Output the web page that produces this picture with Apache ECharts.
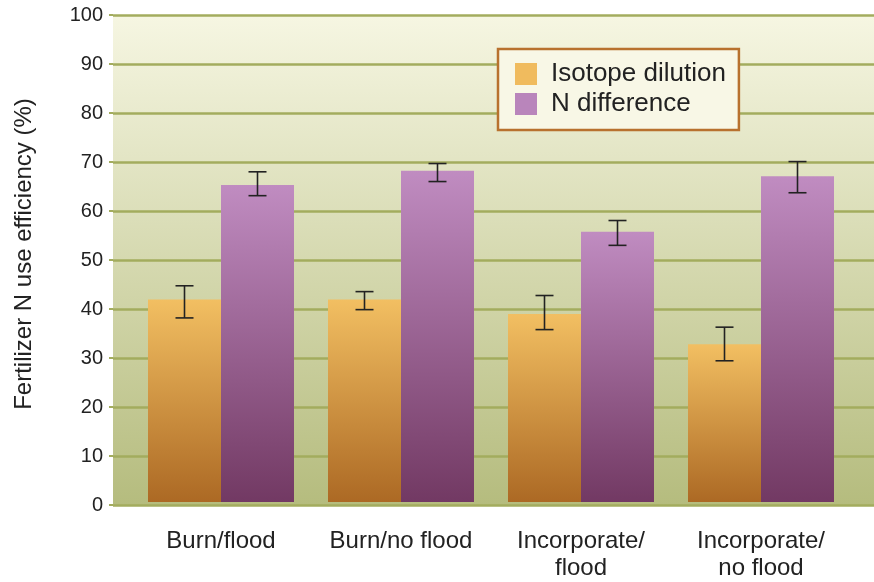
<!DOCTYPE html>
<html>
<head>
<meta charset="utf-8">
<script src="https://cdn.jsdelivr.net/npm/echarts@6/dist/echarts.min.js"></script>
<style>
  html, body { margin: 0; padding: 0; background: #fff; }
  #chart { width: 874px; height: 582px; }
</style>
</head>
<body>
<div id="chart"></div>
<script>
// Data
var categories = ['Burn/flood', 'Burn/no flood', 'Incorporate/\nflood', 'Incorporate/\nno flood'];
var isotopeDilution = [41.6, 41.6, 38.6, 32.4];
var isotopeLow = [37.8, 39.5, 35.4, 29.0];
var isotopeHigh = [44.4, 43.2, 42.4, 35.9];
var nDifference = [65.1, 68.0, 55.5, 66.9];
var nDiffLow = [62.9, 65.8, 52.7, 63.5];
var nDiffHigh = [67.8, 69.5, 57.8, 69.9];
var yTicks = [0, 10, 20, 30, 40, 50, 60, 70, 80, 90, 100];

var FONT = '"Liberation Sans", Arial, Helvetica, sans-serif';
var BAR_W = 73;

var COLORS = {
  orangeTop: '#f2bf62', orangeBottom: '#ac6924',
  purpleTop: '#c08cc1', purpleBottom: '#723963',
  legendOrange: '#f0bb5e', legendPurple: '#b985bb'
};

function vGrad(top, bottom) {
  return new echarts.graphic.LinearGradient(0, 0, 0, 1, [
    { offset: 0, color: top },
    { offset: 1, color: bottom }
  ]);
}

// error bars drawn at the bar centres (offset from the category centre)
function errorSeries(lows, highs, offset) {
  var data = lows.map(function (lo, i) { return [i, lo, highs[i]]; });
  return {
    type: 'custom',
    xAxisIndex: 1,
    yAxisIndex: 1,
    z: 10,
    silent: true,
    data: data,
    renderItem: function (params, api) {
      var lo = api.coord([api.value(0), api.value(1)]);
      var hi = api.coord([api.value(0), api.value(2)]);
      var x = lo[0] + offset;
      var hw = 9;
      var style = { stroke: '#222', lineWidth: 1.6 };
      return {
        type: 'group',
        children: [
          { type: 'line', shape: { x1: x, y1: lo[1], x2: x, y2: hi[1] }, style: style },
          { type: 'line', shape: { x1: x - hw, y1: lo[1], x2: x + hw, y2: lo[1] }, style: style },
          { type: 'line', shape: { x1: x - hw, y1: hi[1], x2: x + hw, y2: hi[1] }, style: style }
        ]
      };
    }
  };
}

var chart = echarts.init(document.getElementById('chart'), null, { renderer: 'canvas' });

var option = {
  backgroundColor: '#ffffff',
  animation: false,
  textStyle: { fontFamily: FONT },
  legend: {
    orient: 'vertical',
    left: 498,
    top: 49,
    padding: [12, 13, 13, 17],
    itemWidth: 22,
    itemHeight: 22,
    itemGap: 4,
    icon: 'rect',
    backgroundColor: '#f8f7e6',
    borderColor: '#b8712e',
    borderWidth: 2.5,
    textStyle: { fontSize: 26, lineHeight: 22, color: '#222', fontFamily: FONT, padding: [2, 0, 0, 9] },
    data: [
      { name: 'Isotope dilution', itemStyle: { color: COLORS.legendOrange } },
      { name: 'N difference', itemStyle: { color: COLORS.legendPurple } }
    ]
  },
  grid: [
    {
      // background panel with gridlines, full width
      left: 113, right: 0, top: 15, bottom: 77,
      show: true,
      borderWidth: 0,
      backgroundColor: vGrad('#f6f6e2', '#b5bc7e')
    },
    {
      // bars
      left: 131, right: 23, top: 15, bottom: 77
    }
  ],
  xAxis: [
    {
      gridIndex: 0, type: 'category', data: categories, show: false
    },
    {
      gridIndex: 1,
      type: 'category',
      data: categories,
      axisLine: { show: false },
      axisTick: { show: false },
      axisLabel: {
        margin: 26,
        fontSize: 24,
        lineHeight: 27,
        color: '#222',
        fontFamily: FONT,
        interval: 0
      }
    }
  ],
  yAxis: [
    {
      gridIndex: 0,
      type: 'value',
      min: 0,
      max: 100,
      interval: 10,
      name: 'Fertilizer N use efficiency (%)',
      nameLocation: 'middle',
      nameGap: 77,
      nameTextStyle: { fontSize: 24, color: '#222', fontFamily: FONT, padding: [0, 0, 0, 12] },
      axisLine: { show: false },
      axisTick: { show: true, length: 4, lineStyle: { color: '#a3ac5e', width: 2 } },
      axisLabel: {
        margin: 10,
        fontSize: 20,
        color: '#222',
        fontFamily: FONT,
        customValues: yTicks
      },
      splitLine: { show: true, lineStyle: { color: '#a3ac5e', width: 2.5 } }
    },
    {
      gridIndex: 1,
      type: 'value',
      min: 0,
      max: 100,
      interval: 10,
      show: false,
      splitLine: { show: false }
    }
  ],
  series: [
    {
      name: 'Isotope dilution',
      type: 'bar',
      xAxisIndex: 1,
      yAxisIndex: 1,
      barWidth: BAR_W,
      barGap: '0%',
      data: isotopeDilution,
      itemStyle: { color: vGrad(COLORS.orangeTop, COLORS.orangeBottom) },
      z: 3
    },
    {
      name: 'N difference',
      type: 'bar',
      xAxisIndex: 1,
      yAxisIndex: 1,
      barWidth: BAR_W,
      barGap: '0%',
      data: nDifference,
      itemStyle: { color: vGrad(COLORS.purpleTop, COLORS.purpleBottom) },
      z: 3
    },
    errorSeries(isotopeLow, isotopeHigh, -BAR_W / 2),
    errorSeries(nDiffLow, nDiffHigh, BAR_W / 2)
  ]
};

chart.setOption(option);
</script>
</body>
</html>
